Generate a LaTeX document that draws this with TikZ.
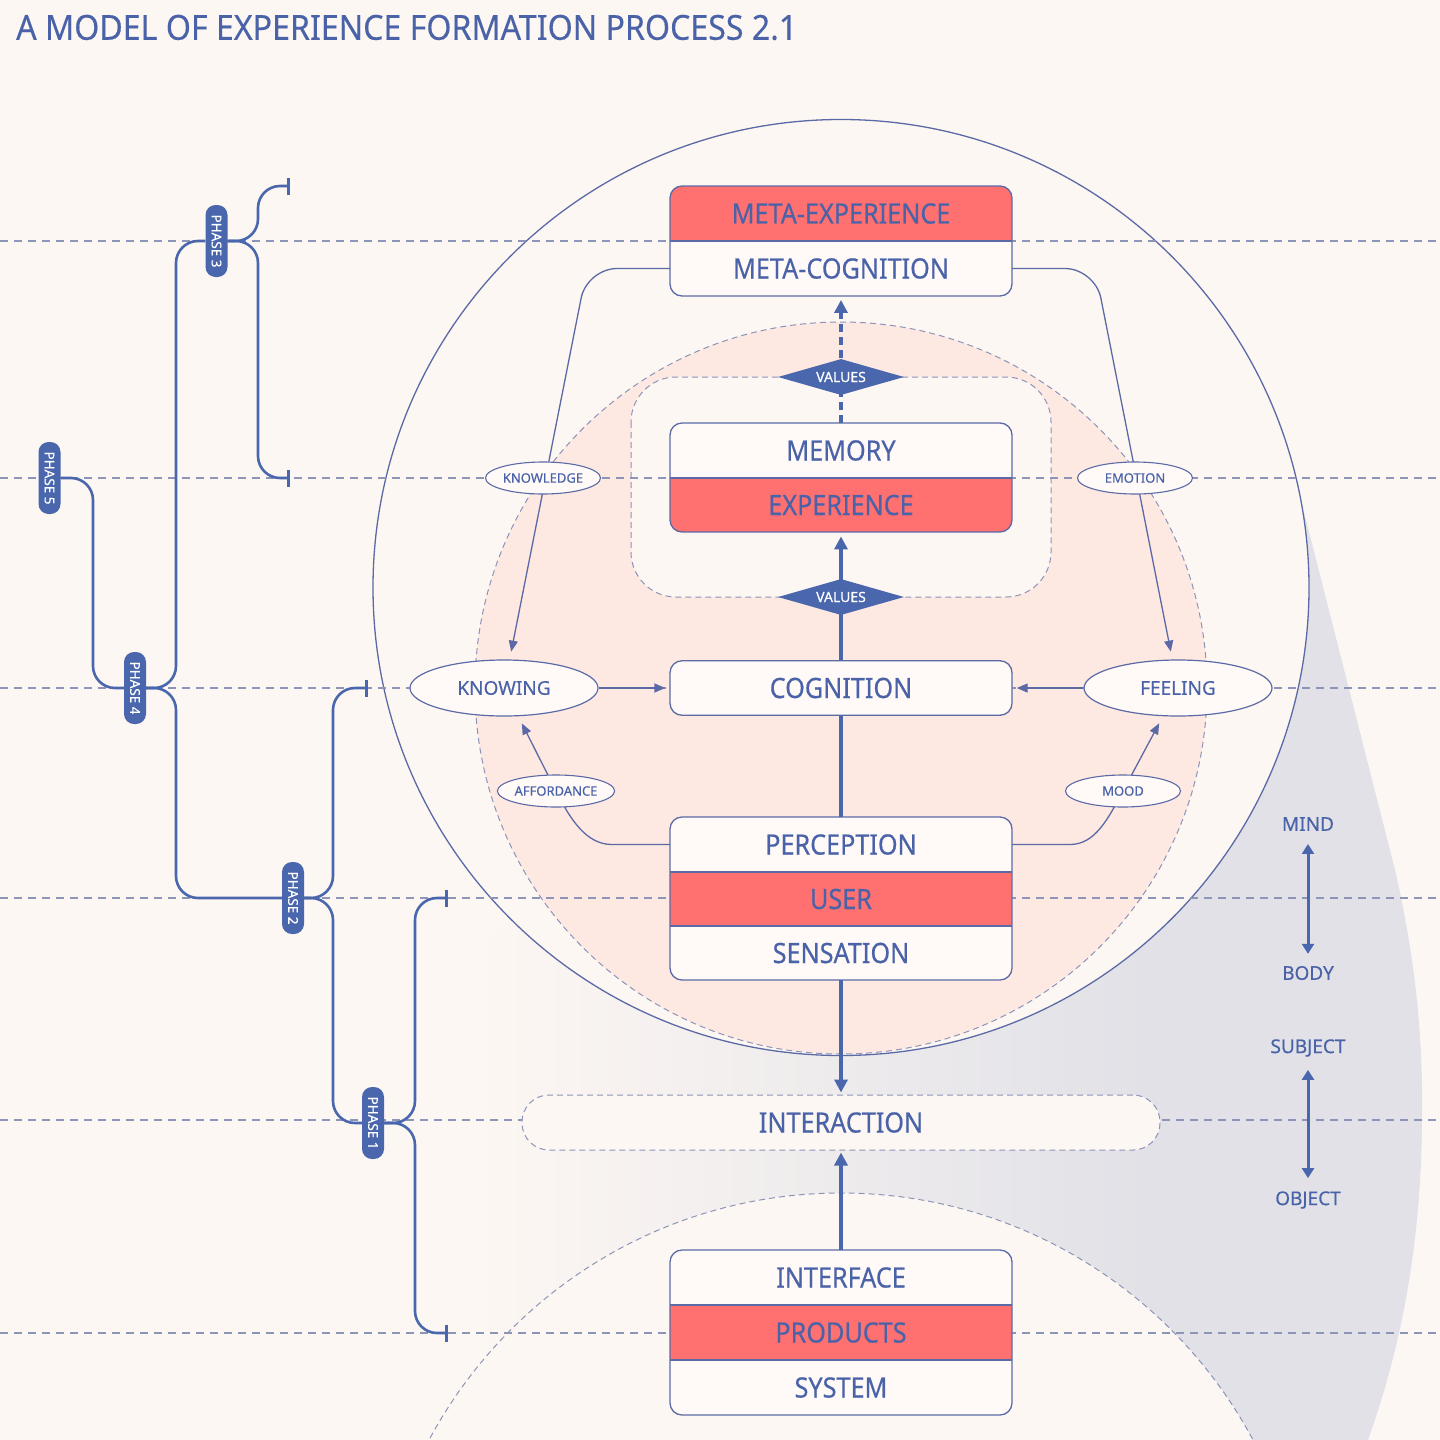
\documentclass[tikz,border=0pt]{standalone}
\usepackage{fontspec}
\usepackage{graphicx}
\setmainfont{Noto Sans}[FakeBold=0.35]
\newfontfamily\boxfont[FakeStretch=0.9,FakeBold=0.45]{Noto Sans}
\usetikzlibrary{arrows.meta,shapes.geometric,calc}
\definecolor{bgc}{HTML}{FDF7F3}
\definecolor{pinkc}{HTML}{FDE8E2}
\definecolor{grayc}{HTML}{E1E1E7}
\definecolor{redc}{HTML}{FF7070}
\definecolor{bluec}{HTML}{4A66AD}
\definecolor{txtc}{HTML}{4A63A8}
\definecolor{dashc}{HTML}{8C94B8}
\definecolor{boxc}{HTML}{FFFAF7}
\definecolor{edgec}{HTML}{5B6AA6}
\tikzset{
 hdash/.style={draw=dashc, line width=1.2pt, dash pattern=on 8pt off 6pt},
 softdash/.style={draw=dashc, line width=1pt, dash pattern=on 6pt off 4pt},
 rowtxt/.style={minimum width=342pt, minimum height=54.5pt, inner sep=0pt, font=\boxfont\fontsize{28}{30}\selectfont, text=txtc},
 boxedge/.style={draw=edgec, line width=1.3pt},
 bigell/.style={ellipse, draw=edgec, fill=boxc, line width=1.2pt, minimum width=188pt, minimum height=56pt, inner sep=0pt, font=\fontsize{19}{21}\selectfont, text=txtc},
 smallell/.style={ellipse, draw=edgec, fill=boxc, line width=1.1pt, minimum width=115pt, minimum height=32pt, inner sep=0pt, font=\fontsize{13}{15}\selectfont, text=txtc},
 valdia/.style={diamond, aspect=3.5, fill=bluec, minimum width=126pt, minimum height=36pt, inner sep=0pt, text=white, font=\fontsize{14}{16}\selectfont},
 phasepill/.style={fill=bluec, rounded corners=10pt, minimum width=22pt, minimum height=72pt, inner sep=0pt, text=white, font=\fontsize{13.5}{15}\selectfont},
 brk/.style={draw=bluec, line width=2.6pt, rounded corners=22pt},
 barend/.style={-{Bar[width=17pt]}},
 thinarr/.style={draw=edgec, line width=1.3pt, -{Triangle[width=9pt,length=11pt]}},
 thickline/.style={draw=bluec, line width=4pt},
 thickarr/.style={thickline, -{Triangle[width=13pt,length=13pt]}},
 axislbl/.style={text=txtc, font=\fontsize{19}{21}\selectfont, inner sep=3pt},
 axisarr/.style={draw=bluec, line width=3pt, {Triangle[width=12pt,length=10pt]}-{Triangle[width=12pt,length=10pt]}}
}
\begin{document}
\begin{tikzpicture}[x=1pt,y=-1pt]
\useasboundingbox (0,0) rectangle (1440,1440);
\clip (0,0) rectangle (1440,1440);
\fill[bgc] (0,0) rectangle (1440,1440);

% gray gradient region
\begin{scope}
\clip (1304,512) -- (1395,870) .. controls (1418,970) and (1423,1050) .. (1422,1120)
  .. controls (1421,1250) and (1400,1350) .. (1368,1440) -- (430,1440) -- (430,1000) -- (841,587) -- cycle;
\shade[left color=bgc, right color=grayc] (470,480) rectangle (1150,1440);
\fill[grayc] (1150,480) rectangle (1440,1440);
\end{scope}

% circles
\fill[bgc] (841,587.5) circle[radius=468pt];
\draw[softdash, fill=bgc] (841,1660) circle[radius=467pt];
\draw[softdash, fill=pinkc] (841,688) circle[radius=366pt];
\draw[edgec, line width=1.3pt] (841,587.5) circle[radius=468pt];
\draw[softdash, fill=bgc, rounded corners=45pt] (631,377) rectangle (1051,597);

% horizontal dashed guides
\foreach \yy in {241,478,688,898,1120,1333}
  \draw[hdash] (0,\yy) -- (1440,\yy);

% title
\node[anchor=west, inner sep=0pt, text=txtc] (title) at (16,27.5)
  {\resizebox{781pt}{25pt}{\fontsize{35}{40}\selectfont A MODEL OF EXPERIENCE FORMATION PROCESS 2.1}};

% ---- boxes ----
% META
\fill[boxc, rounded corners=12pt] (670,186) rectangle (1012,296);
\begin{scope}\clip[rounded corners=12pt] (670,186) rectangle (1012,296);
\fill[redc] (670,186) rectangle (1012,241);\end{scope}
\draw[boxedge] (670,241) -- (1012,241);
\draw[boxedge, rounded corners=12pt] (670,186) rectangle (1012,296);
\node[rowtxt] (metaexp) at (841,213.5) {META-EXPERIENCE};
\node[rowtxt] (metacog) at (841,268.5) {META-COGNITION};

% MEMORY
\fill[boxc, rounded corners=12pt] (670,423) rectangle (1012,532);
\begin{scope}\clip[rounded corners=12pt] (670,423) rectangle (1012,532);
\fill[redc] (670,478) rectangle (1012,532);\end{scope}
\draw[boxedge] (670,478) -- (1012,478);
\draw[boxedge, rounded corners=12pt] (670,423) rectangle (1012,532);
\node[rowtxt] (memory) at (841,450.5) {MEMORY};
\node[rowtxt] (experience) at (841,505) {EXPERIENCE};

% COGNITION
\node[rowtxt, fill=boxc, boxedge, rounded corners=12pt] (cognition) at (841,688) {COGNITION};

% PERCEPTION / USER / SENSATION
\fill[boxc, rounded corners=12pt] (670,817) rectangle (1012,980);
\fill[redc] (670,872) rectangle (1012,926);
\draw[boxedge] (670,872) -- (1012,872) (670,926) -- (1012,926);
\draw[boxedge, rounded corners=12pt] (670,817) rectangle (1012,980);
\node[rowtxt] (perception) at (841,844.5) {PERCEPTION};
\node[rowtxt] (user) at (841,899) {USER};
\node[rowtxt] (sensation) at (841,953) {SENSATION};

% INTERFACE / PRODUCTS / SYSTEM
\fill[boxc, rounded corners=12pt] (670,1250) rectangle (1012,1415);
\fill[redc] (670,1305) rectangle (1012,1360);
\draw[boxedge] (670,1305) -- (1012,1305) (670,1360) -- (1012,1360);
\draw[boxedge, rounded corners=12pt] (670,1250) rectangle (1012,1415);
\node[rowtxt] (interface) at (841,1277.5) {INTERFACE};
\node[rowtxt] (products) at (841,1332.5) {PRODUCTS};
\node[rowtxt] (system) at (841,1387.5) {SYSTEM};

% INTERACTION
\node[softdash, fill=bgc, rounded corners=27pt, minimum width=638pt, minimum height=55pt, inner sep=0pt,
  text=txtc, font=\boxfont\fontsize{28}{30}\selectfont] (interaction) at (841,1122.5) {INTERACTION};

% ellipses
\node[bigell] (knowing) at (504,688) {KNOWING};
\node[bigell] (feeling) at (1178,688) {FEELING};

% ---- connectors ----
\draw[thinarr, rounded corners=30pt, shorten >=8pt] (metacog.west) -- (587,268.5) -- (knowing);
\draw[thinarr, rounded corners=30pt, shorten >=8pt] (metacog.east) -- (1095,268.5) -- (feeling);
\draw[thinarr, shorten >=4pt] (knowing.east) -- (cognition.west);
\draw[thinarr, shorten >=4pt] (feeling.west) -- (cognition.east);
\draw[thinarr, shorten >=8pt] (perception.west) -- (612,844.5) .. controls (587,844.5) and (571,821) .. (556,791) -- (knowing);
\draw[thinarr, shorten >=8pt] (perception.east) -- (1070,844.5) .. controls (1095,844.5) and (1108,819) .. (1123,791) -- (feeling);

\draw[thickarr, shorten >=4pt] (cognition.north) -- (experience.south);
\draw[thickline, dash pattern=on 8pt off 5pt, -{Triangle[width=13pt,length=13pt]}, shorten >=4pt] (memory.north) -- (metacog.south);
\draw[thickline] (perception.north) -- (cognition.south);
\draw[thickarr, shorten >=2pt] (sensation.south) -- (interaction.north);
\draw[thickarr, shorten >=2pt] (interface.north) -- (interaction.south);

% labels on connectors
\node[smallell] (knowledge) at (543,478) {KNOWLEDGE};
\node[smallell] (emotion) at (1135,478) {EMOTION};
\node[smallell] (affordance) at (556,791) {AFFORDANCE};
\node[smallell] (mood) at (1123,791) {MOOD};
\node[valdia] (values1) at (841,377) {VALUES};
\node[valdia] (values2) at (841,597) {VALUES};

% ---- phases ----
\node[phasepill] (p5) at (49.5,478) {\rotatebox{-90}{PHASE 5}};
\node[phasepill] (p4) at (135,688) {\rotatebox{-90}{PHASE 4}};
\node[phasepill] (p3) at (216.5,241) {\rotatebox{-90}{PHASE 3}};
\node[phasepill] (p2) at (293,898) {\rotatebox{-90}{PHASE 2}};
\node[phasepill] (p1) at (373,1123) {\rotatebox{-90}{PHASE 1}};
\coordinate (t3a) at (290,186);
\coordinate (t3b) at (290,478);
\coordinate (t2a) at (368,688);
\coordinate (t1a) at (448,898);
\coordinate (t1b) at (448,1333);
\draw[brk, barend] (p3.east) -- (258,241) -- (258,186) -- (t3a);
\draw[brk, barend] (p3.east) -- (258,241) -- (258,478) -- (t3b);
\draw[brk] (p5.east) -- (93,478) -- (93,688) -- (p4.west);
\draw[brk] (p4.east) -- (176,688) -- (176,241) -- (p3.west);
\draw[brk] (p4.east) -- (176,688) -- (176,898) -- (p2.west);
\draw[brk, barend] (p2.east) -- (333,898) -- (333,688) -- (t2a);
\draw[brk] (p2.east) -- (333,898) -- (333,1123) -- (p1.west);
\draw[brk, barend] (p1.east) -- (415,1123) -- (415,898) -- (t1a);
\draw[brk, barend] (p1.east) -- (415,1123) -- (415,1333) -- (t1b);

% ---- axes ----
\node[axislbl] (mind) at (1308,824) {MIND};
\node[axislbl] (body) at (1308,973) {BODY};
\node[axislbl] (subject) at (1308,1048) {SUBJECT};
\node[axislbl] (object) at (1308,1200) {OBJECT};
\draw[axisarr, shorten <=10pt, shorten >=9pt] (mind) -- (body);
\draw[axisarr, shorten <=10pt, shorten >=10pt] (subject) -- (object);
\end{tikzpicture}
\end{document}
